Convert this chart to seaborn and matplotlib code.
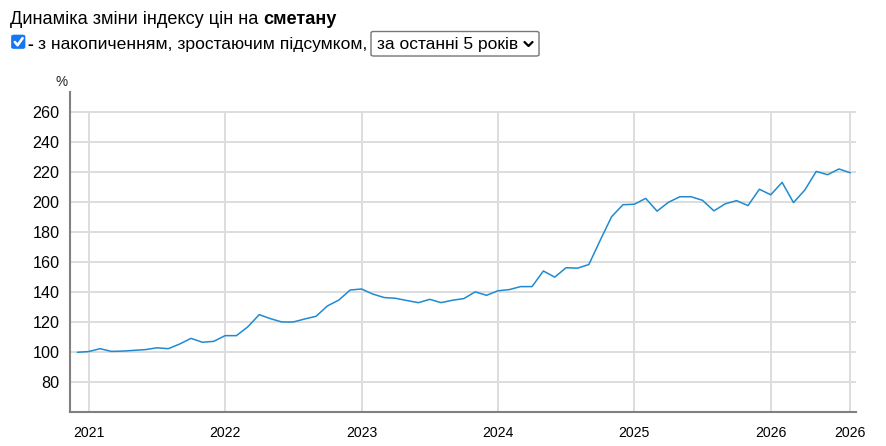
import numpy as np
import pandas as pd
import matplotlib
matplotlib.use("Agg")
import matplotlib.pyplot as plt
import seaborn as sns
from matplotlib.patches import FancyBboxPatch
from matplotlib.lines import Line2D

# ---- data (monthly cumulative price index, %) ----
values = [100.0, 100.5, 102.4, 100.6, 100.8, 101.3, 101.8, 103.0, 102.4, 105.5,
          109.3, 106.7, 107.3, 111.1, 111.1, 117.0, 125.1, 122.4, 120.2, 120.2,
          122.2, 124.0, 130.9, 134.8, 141.5, 142.2, 138.8, 136.5, 136.0, 134.5,
          133.1, 135.3, 133.1, 134.7, 135.8, 140.3, 138.0, 141.0, 141.8, 143.8,
          143.8, 154.2, 150.1, 156.4, 156.1, 158.5, 174.7, 190.4, 198.4, 198.7,
          202.6, 194.1, 200.0, 203.7, 203.7, 201.3, 194.3, 199.0, 201.1, 197.8,
          208.7, 205.0, 213.3, 199.8, 208.2, 220.6, 218.4, 222.2, 219.7]
tick_pos = [1, 13, 25, 37, 49, 61, 68]
tick_labels = ["2021", "2022", "2023", "2024", "2025", "2026", "2026"]
y_ticks = [80, 100, 120, 140, 160, 180, 200, 220, 240, 260]

title_regular = "Динаміка зміни індексу цін на"
title_bold = "сметану"
subtitle_dash = "-"
subtitle = "з накопиченням, зростаючим підсумком,"
dropdown_text = "за останні 5 років"
y_unit = "%"

W, H = 887, 446
sns.set_theme(style="white")
plt.rcParams["font.family"] = ["Liberation Sans", "DejaVu Sans"]

fig = plt.figure(figsize=(W / 100, H / 100), dpi=100)
fig.patch.set_facecolor("white")


def px(x, y):
    return x / W, 1 - y / H


ax_left, ax_right, ax_top, ax_bottom = 70.5, 856, 92, 412.3
ax = fig.add_axes([ax_left / W, 1 - ax_bottom / H,
                   (ax_right - ax_left) / W, (ax_bottom - ax_top) / H])

df = pd.DataFrame({"month": np.arange(len(values)), "value": values})
sns.lineplot(data=df, x="month", y="value", ax=ax, color="#1f8ad2",
             linewidth=1.1, zorder=3)

y_bottom = 60
ax.set_xlim(-0.6, 68.5)
ax.set_ylim(y_bottom, y_bottom + (ax_bottom - ax_top) / 1.5)
ax.set_yticks(y_ticks)
ax.set_xticks(tick_pos)
ax.set_xticklabels(tick_labels)
ax.set_xlabel("")
ax.set_ylabel("")
ax.grid(True, axis="y", color="#dddddd", linewidth=1.4)
ax.vlines(tick_pos, y_bottom, y_ticks[-1], colors="#dddddd", linewidth=1.4,
          zorder=0)
ax.set_axisbelow(True)
for s in ["top", "right"]:
    ax.spines[s].set_visible(False)
for s in ["left", "bottom"]:
    ax.spines[s].set_color("#808080")
    ax.spines[s].set_linewidth(1.5)
ax.tick_params(axis="both", direction="out", length=7, width=1.2,
               color="#808080", labelcolor="black", pad=2)
ax.tick_params(axis="y", labelsize=11.6, pad=1)
ax.tick_params(axis="x", labelsize=10.2, pad=3)
ax.set_facecolor("white")

fig.text(*px(61.5, 82.5), y_unit, ha="center", va="center", fontsize=9.8)

# ---- header ----
fs_title = 13.1
fs_sub = 12.6
fs_dd = 12.5
t1 = fig.text(*px(10, 19), title_regular, ha="left", va="center",
              fontsize=fs_title, color="black")
fig.canvas.draw()
r = fig.canvas.get_renderer()
bb = t1.get_window_extent(renderer=r)
fig.text((bb.x1 + 4.8) / W, 1 - 19 / H, title_bold, ha="left", va="center",
         fontsize=fs_title, fontweight="bold", color="black")

# checkbox
cb = FancyBboxPatch(px(11.5, 48.5), 13.5 / W, 13.5 / H,
                    boxstyle="round,pad=0,rounding_size=0.003",
                    transform=fig.transFigure, facecolor="#1677f2",
                    edgecolor="#1677f2", linewidth=0.5)
fig.patches.append(cb)
chk = Line2D([14.8 / W, 17.6 / W, 22.6 / W],
             [1 - 42 / H, 1 - 45.2 / H, 1 - 38.2 / H],
             transform=fig.transFigure, color="white", linewidth=1.9,
             solid_capstyle="round", solid_joinstyle="round")
fig.lines.append(chk)

fig.text(*px(27.5, 44), subtitle_dash, ha="left", va="center",
         fontsize=fs_sub, fontweight="bold", color="black")
fig.text(*px(38.5, 44), subtitle, ha="left", va="center", fontsize=fs_sub,
         color="black")

# dropdown
dd = FancyBboxPatch(px(371, 56), (539 - 371) / W, 24.5 / H,
                    boxstyle="round,pad=0,rounding_size=0.003",
                    transform=fig.transFigure, facecolor="white",
                    edgecolor="#767676", linewidth=1.0)
fig.patches.append(dd)
fig.text(*px(377, 44), dropdown_text, ha="left", va="center", fontsize=fs_dd,
         color="black")
chev = Line2D([524.5 / W, 528.5 / W, 532.5 / W],
              [1 - 42 / H, 1 - 46 / H, 1 - 42 / H],
              transform=fig.transFigure, color="black", linewidth=1.6)
fig.lines.append(chev)

fig.savefig("out.png", dpi=100, facecolor="white")
